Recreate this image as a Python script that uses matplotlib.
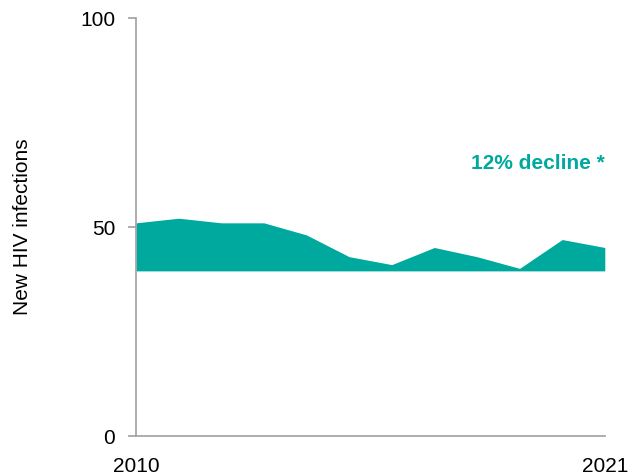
import matplotlib.pyplot as plt

plt.rcParams["font.family"] = ["Liberation Sans", "DejaVu Sans"]

years = [2010, 2011, 2012, 2013, 2014, 2015, 2016, 2017, 2018, 2019, 2020, 2021]
infections = [51.0, 52.1, 51.0, 51.0, 48.1, 42.9, 41.0, 45.1, 42.9, 40.1, 47.0, 45.1]
baseline = 39.5
y_ticks = [0, 50, 100]
x_ticks = [2010, 2021]
note = "12% decline *"

teal = "#00A99D"
axis_grey = "#A0A0A0"

fig = plt.figure(figsize=(6.3, 4.75), dpi=100)
ax = fig.add_axes([0.216, 0.0821, 0.744, 0.88])

ax.fill_between(years, baseline, infections, color=teal, linewidth=0)

ax.set_xlim(years[0], years[-1])
ax.set_ylim(0, 100)
ax.set_xticks(x_ticks)
ax.set_yticks(y_ticks)

for side in ["top", "right"]:
    ax.spines[side].set_visible(False)
for side in ["left", "bottom"]:
    ax.spines[side].set_color(axis_grey)
    ax.spines[side].set_linewidth(1.2)

ax.tick_params(axis="y", length=6, width=1.2, color=axis_grey, pad=9, labelsize=15)
ax.tick_params(axis="x", length=0, pad=15, labelsize=15)

ax.set_ylabel("New HIV infections", fontsize=15, labelpad=35)

ax.text(2021, 65.3, note, ha="right", va="center", color=teal,
        fontsize=15, fontweight="bold")

fig.savefig("out.png", dpi=100)
